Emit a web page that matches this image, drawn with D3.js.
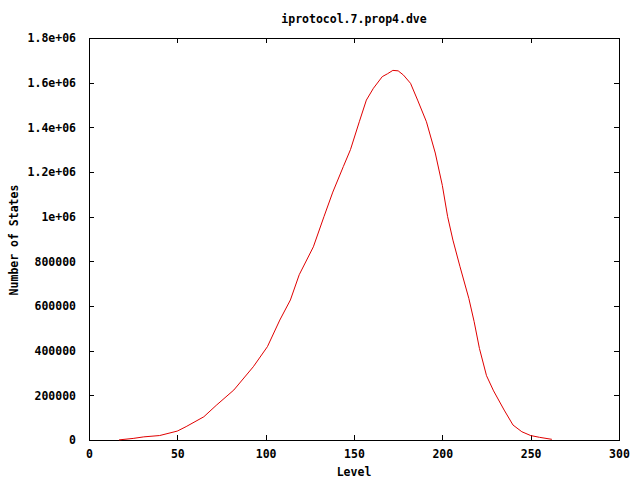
<!DOCTYPE html>
<html>
<head>
<meta charset="utf-8">
<script src="https://cdn.jsdelivr.net/npm/d3@7"></script>
<style>
  html, body { margin: 0; padding: 0; background: #fff; }
  svg text { font-family: "DejaVu Sans Mono", "Liberation Mono", monospace; font-weight: bold; font-size: 11.5px; fill: #000; }
</style>
</head>
<body>
<svg id="chart" width="640" height="480"></svg>
<script>
const title = "iprotocol.7.prop4.dve";
const xLabel = "Level";
const yLabel = "Number of States";

const levels = [17, 25, 31, 40, 50, 55, 65, 72, 82, 93, 101, 108, 114, 119, 127, 133, 138, 144, 148, 153, 157, 161, 166, 169, 172, 175, 178, 182, 186, 191, 196, 200, 203, 206, 210, 215, 218, 221, 225, 229, 235, 240, 245, 250, 255, 262];
const states = [500, 7000, 14000, 20000, 40000, 60000, 104000, 155000, 224000, 328000, 418000, 537000, 627000, 740000, 865000, 1000000, 1110000, 1225000, 1300000, 1425000, 1522000, 1575000, 1627000, 1640000, 1655000, 1653000, 1634000, 1597000, 1522000, 1425000, 1285000, 1140000, 1000000, 895000, 776000, 634000, 530000, 410000, 288000, 220000, 134000, 67000, 37000, 20000, 12000, 3000];

const xTickValues = [0, 50, 100, 150, 200, 250, 300];
const xTickLabels = ["0", "50", "100", "150", "200", "250", "300"];
const yTickValues = [0, 200000, 400000, 600000, 800000, 1000000, 1200000, 1400000, 1600000, 1800000];
const yTickLabels = ["0", "200000", "400000", "600000", "800000", "1e+06", "1.2e+06", "1.4e+06", "1.6e+06", "1.8e+06"];

const data = levels.map((l, i) => ({ x: l, y: states[i] }));

const mLeft = 89, mRight = 619, mTop = 38, mBottom = 440;
const svg = d3.select("#chart");

const x = d3.scaleLinear().domain([0, 300]).range([mLeft, mRight]);
const y = d3.scaleLinear().domain([0, 1800000]).range([mBottom, mTop]);

const xAxisB = d3.axisBottom(x).tickValues(xTickValues)
  .tickFormat((d, i) => xTickLabels[i]).tickSizeInner(-5).tickSizeOuter(0).tickPadding(10);
const xAxisT = d3.axisTop(x).tickValues(xTickValues).tickFormat("").tickSizeInner(-5).tickSizeOuter(0);
const yAxisL = d3.axisLeft(y).tickValues(yTickValues)
  .tickFormat((d, i) => yTickLabels[i]).tickSizeInner(-5).tickSizeOuter(0).tickPadding(13);
const yAxisR = d3.axisRight(y).tickValues(yTickValues).tickFormat("").tickSizeInner(-5).tickSizeOuter(0);

function style(g) {
  g.select(".domain").remove();
  g.selectAll(".tick line").attr("stroke", "#000").attr("shape-rendering", "crispEdges");
  g.selectAll("text").attr("font-family", null).attr("font-size", null).attr("fill", "#000");
}

svg.append("g").attr("transform", `translate(0,${mBottom})`).call(xAxisB).call(style);
svg.append("g").attr("transform", `translate(0,${mTop})`).call(xAxisT).call(style);
svg.append("g").attr("transform", `translate(${mLeft},0)`).call(yAxisL).call(style);
svg.append("g").attr("transform", `translate(${mRight},0)`).call(yAxisR).call(style);

svg.append("rect")
  .attr("x", mLeft + 0.5).attr("y", mTop + 0.5)
  .attr("width", mRight - mLeft).attr("height", mBottom - mTop)
  .attr("fill", "none").attr("stroke", "#000").attr("stroke-width", 1)
  .attr("shape-rendering", "crispEdges");

const line = d3.line().x(d => x(d.x)).y(d => y(d.y));
svg.append("path").datum(data)
  .attr("d", line)
  .attr("fill", "none")
  .attr("stroke", "#e00000")
  .attr("stroke-width", 1);

svg.append("text").attr("x", (mLeft + mRight) / 2).attr("y", 23)
  .attr("text-anchor", "middle").text(title);
svg.append("text").attr("x", (mLeft + mRight) / 2).attr("y", 476)
  .attr("text-anchor", "middle").text(xLabel);
svg.append("text").attr("transform", "translate(18,240) rotate(-90)")
  .attr("text-anchor", "middle").text(yLabel);
</script>
</body>
</html>
